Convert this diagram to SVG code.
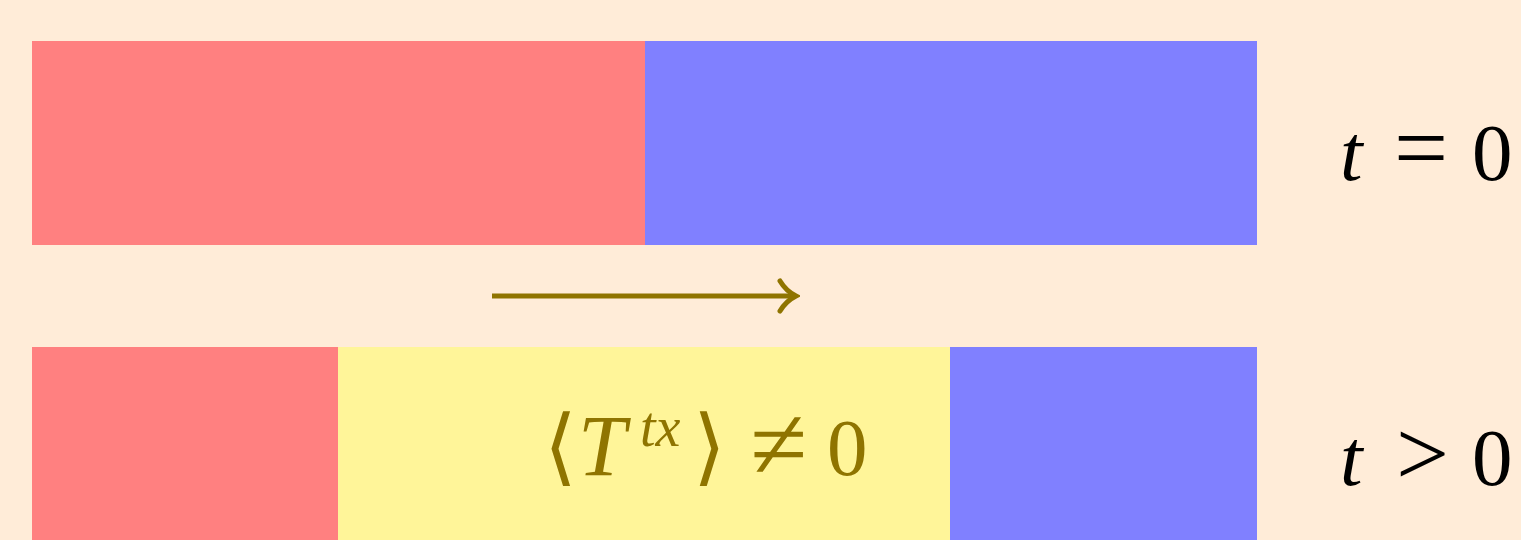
<svg xmlns="http://www.w3.org/2000/svg" width="1521" height="540" viewBox="0 0 1521 540">
<style>
.m{font-family:"Liberation Serif","DejaVu Serif",serif;font-size:81px;fill:#000}
.i{font-style:italic}
.o{fill:#8f7400}
</style>
<defs>
<marker id="ah" markerUnits="userSpaceOnUse" markerWidth="24" markerHeight="40" refX="20" refY="20" orient="auto">
<path d="M4,5 Q10,15 20,20 Q10,25 4,35" fill="none" stroke="#8f7400" stroke-width="5" stroke-linecap="round"/>
</marker>
</defs>
<rect width="1521" height="540" fill="#ffecd8"/>
<g id="top-left"><rect x="32" y="41" width="613" height="204" fill="#ff8080"/></g>
<g id="top-right"><rect x="645" y="41" width="612" height="204" fill="#8080ff"/></g>
<g id="bot-left"><rect x="32" y="347" width="306" height="193" fill="#ff8080"/></g>
<g id="bot-mid"><rect x="338" y="347" width="612" height="193" fill="#fff599"/>
<text class="m o" y="475"><tspan x="544" font-size="84">⟨</tspan><tspan class="i" x="578" font-size="86">T</tspan><tspan class="i" x="640" y="446" font-size="56">tx</tspan><tspan x="693" y="475" font-size="84">⟩</tspan><tspan x="750" y="479" font-size="104">≠</tspan><tspan x="827" y="475">0</tspan></text></g>
<g id="bot-right"><rect x="950" y="347" width="307" height="193" fill="#8080ff"/></g>
<g id="lbl-t0"><text class="m" y="180"><tspan class="i" x="1340">t</tspan><tspan x="1394" font-size="96">=</tspan><tspan x="1472">0</tspan></text></g>
<g id="lbl-t1"><text class="m" y="485"><tspan class="i" x="1340">t</tspan><tspan x="1396" font-size="94">&gt;</tspan><tspan x="1472">0</tspan></text></g>
<g id="connectors"><line x1="492" y1="296" x2="796" y2="296" stroke="#8f7400" stroke-width="5" marker-end="url(#ah)"/></g>
</svg>
